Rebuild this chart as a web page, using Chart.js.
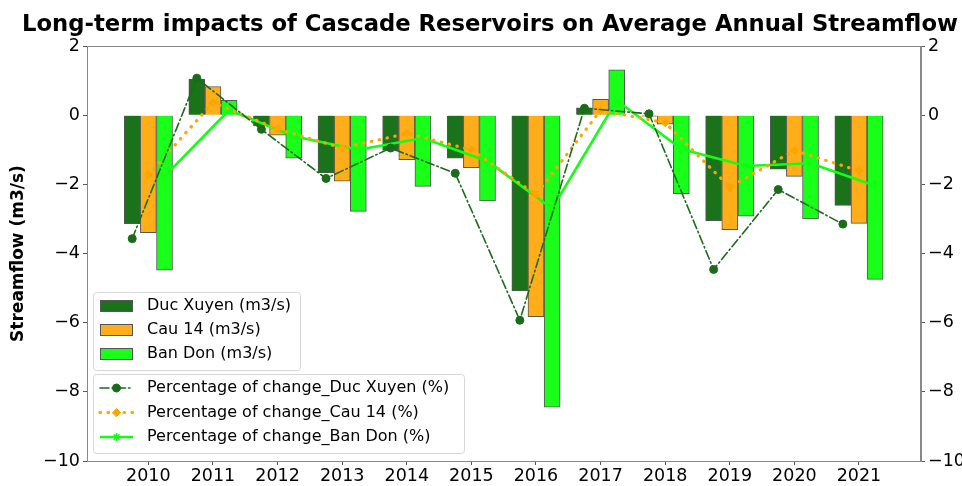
<!DOCTYPE html>
<html>
<head>
<meta charset="utf-8">
<script src="https://cdn.jsdelivr.net/npm/chart.js@4/dist/chart.umd.min.js"></script>
<style>
  body { margin: 0; background: #fff; }
  #wrap { width: 962px; height: 486px; }
</style>
</head>
<body>
<div id="wrap"><canvas id="streamChart" width="962" height="486"></canvas></div>
<script>
const years = [2010, 2011, 2012, 2013, 2014, 2015, 2016, 2017, 2018, 2019, 2020, 2021];

// streamflow change (m3/s)
const ducXuyen = [-3.14, 1.04, -0.31, -1.67, -1.02, -1.24, -5.08, 0.21, -0.03, -3.05, -1.56, -2.61];
const cau14 = [-3.40, 0.83, -0.58, -1.91, -1.29, -1.52, -5.83, 0.46, -0.26, -3.31, -1.77, -3.13];
const banDon = [-4.48, 0.43, -1.24, -2.78, -2.06, -2.48, -8.44, 1.31, -2.27, -2.92, -3.00, -4.75];

// percentage of change (%)
const pctDucXuyen = [-3.57, 1.07, -0.41, -1.83, -0.95, -1.68, -5.93, 0.20, 0.04, -4.46, -2.15, -3.15];
const pctCau14 = [-1.72, 0.37, -0.40, -0.95, -0.53, -1.00, -2.30, 0.14, -0.22, -2.08, -1.02, -1.61];
const pctBanDon = [-1.77, 0.15, -0.61, -1.00, -0.66, -1.33, -2.70, 0.43, -0.98, -1.47, -1.39, -2.04];

const yTicks = [-10, -8, -6, -4, -2, 0, 2];

const barLabels = ["Duc Xuyen (m3/s)", "Cau 14 (m3/s)", "Ban Don (m3/s)"];
const lineLabels = ["Percentage of change_Duc Xuyen (%)", "Percentage of change_Cau 14 (%)", "Percentage of change_Ban Don (%)"];

const DARK = "#1a731a", ORANGE = "#ffae1a", LIME = "#1aff1a";
const FONT = "'DejaVu Sans', sans-serif";
const shift = [-0.25, 0, 0.25];

const pts = (vals, k) => vals.map((v, i) => ({ x: years[i] + shift[k], y: v }));

function barSet(label, vals, k, color) {
  return {
    type: "bar", label, data: pts(vals, k), yAxisID: "y",
    backgroundColor: color, borderColor: "#555", borderWidth: 1,
    barThickness: 16, grouped: false, order: 2,
  };
}

function lineSet(label, vals, k, color, dash, width, style) {
  return {
    type: "line", label, data: pts(vals, k), yAxisID: "y1",
    borderColor: color, backgroundColor: color, borderWidth: width,
    borderDash: dash, borderCapStyle: dash.length ? "round" : "butt",
    pointStyle: style, pointRadius: 4, pointBorderWidth: style === "star" ? 1.5 : 1,
    tension: 0, order: 0,
  };
}

const minus = v => String(v).replace("-", "\u2212");

// frame + title + legends drawn by hand, matplotlib style
const extras = {
  id: "extras",
  afterDraw(chart) {
    const { ctx, chartArea: a } = chart;
    ctx.save();
    ctx.strokeStyle = "#888";
    ctx.lineWidth = 1;
    ctx.strokeRect(a.left + 0.5, a.top + 0.5, a.right - a.left - 1, a.bottom - a.top);

    ctx.fillStyle = "#000";
    ctx.font = "bold 22.7px " + FONT;
    ctx.textAlign = "center";
    ctx.textBaseline = "alphabetic";
    ctx.fillText("Long-term impacts of Cascade Reservoirs on Average Annual Streamflow", 490, 31);

    function box(x, y, w, h) {
      ctx.beginPath();
      ctx.roundRect(x, y, w, h, 3);
      ctx.fillStyle = "rgba(255,255,255,0.85)";
      ctx.fill();
      ctx.strokeStyle = "#d6d6d6";
      ctx.lineWidth = 1;
      ctx.stroke();
    }
    ctx.font = "16px " + FONT;
    ctx.textAlign = "left";
    ctx.textBaseline = "middle";

    box(93.5, 292.5, 207, 78);
    [DARK, ORANGE, LIME].forEach((c, i) => {
      const y = 306 + i * 24;
      ctx.fillStyle = c;
      ctx.fillRect(100, y - 6, 33, 12);
      ctx.strokeStyle = "#555";
      ctx.strokeRect(100.5, y - 5.5, 32, 11);
      ctx.fillStyle = "#000";
      ctx.fillText(barLabels[i], 147, y);
    });

    box(93.5, 374.5, 371, 79);
    const ds = chart.data.datasets.filter(d => d.type === "line");
    ds.forEach((d, i) => {
      const y = 388 + i * 24.5;
      ctx.strokeStyle = d.borderColor;
      ctx.lineWidth = d.borderWidth;
      ctx.lineCap = d.borderCapStyle;
      ctx.setLineDash(d.borderDash);
      ctx.beginPath();
      ctx.moveTo(100, y);
      ctx.lineTo(133, y);
      ctx.stroke();
      ctx.setLineDash([]);
      ctx.fillStyle = d.borderColor;
      ctx.lineWidth = d.pointBorderWidth;
      Chart.helpers.drawPoint(ctx, { pointStyle: d.pointStyle, radius: 4, borderWidth: d.pointBorderWidth, rotation: 0 }, 116.5, y);
      ctx.fillStyle = "#000";
      ctx.fillText(lineLabels[i], 147, y);
    });
    ctx.restore();
  }
};

const tickFont = { family: FONT, size: 17.5 };
const yGrid = { drawOnChartArea: false, tickLength: 4, color: "#555" };

new Chart(document.getElementById("streamChart"), {
  data: {
    datasets: [
      barSet(barLabels[0], ducXuyen, 0, DARK),
      barSet(barLabels[1], cau14, 1, ORANGE),
      barSet(barLabels[2], banDon, 2, LIME),
      lineSet(lineLabels[0], pctDucXuyen, 0, "#1a6b1a", [9, 3, 1.5, 3], 1.6, "circle"),
      lineSet(lineLabels[1], pctCau14, 1, "#ffa500", [0.5, 7.5], 3.2, "rectRot"),
      lineSet(lineLabels[2], pctBanDon, 2, "#11ff11", [], 2.6, "star"),
    ],
  },
  options: {
    responsive: false,
    animation: false,
    layout: { padding: { top: 46, left: 0, right: 0, bottom: 0 } },
    plugins: { legend: { display: false }, tooltip: { enabled: false }, title: { display: false } },
    scales: {
      x: {
        type: "linear", min: 2009.05, max: 2021.96, offset: false,
        afterBuildTicks: s => { s.ticks = years.map(v => ({ value: v })); },
        afterFit: s => { s.height = 25; },
        ticks: { font: tickFont, color: "#000", padding: 1, callback: v => String(v), maxRotation: 0, autoSkip: false },
        grid: { drawOnChartArea: false, tickLength: 4, color: "#555", offset: false },
        border: { color: "#888" },
      },
      y: {
        position: "left", min: -10, max: 2,
        afterBuildTicks: s => { s.ticks = yTicks.map(v => ({ value: v })); },
        afterFit: s => { s.width = 87; },
        ticks: { font: tickFont, color: "#000", padding: 3, callback: minus },
        grid: yGrid,
        border: { color: "#888" },
        title: { display: true, text: "Streamflow (m3/s)", color: "#000", font: { family: FONT, size: 17, weight: "bold" }, padding: { top: 8, bottom: 4 } },
      },
      y1: {
        position: "right", min: -10, max: 2,
        afterBuildTicks: s => { s.ticks = yTicks.map(v => ({ value: v })); },
        afterFit: s => { s.width = 41; },
        ticks: { font: tickFont, color: "#000", padding: 3, callback: minus },
        grid: yGrid,
        border: { color: "#888" },
      },
    },
  },
  plugins: [extras],
});
</script>
</body>
</html>
